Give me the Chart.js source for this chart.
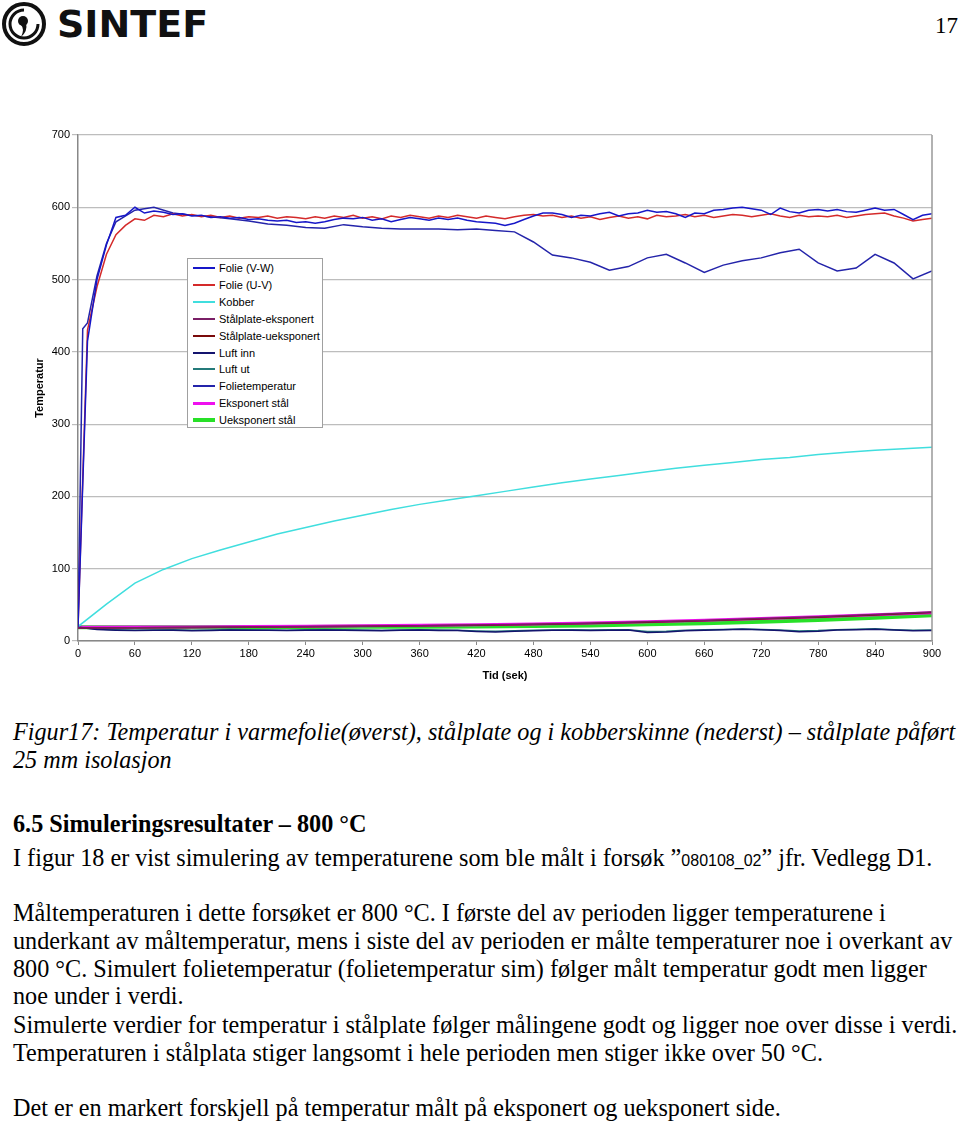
<!DOCTYPE html>
<html>
<head>
<meta charset="utf-8">
<script src="https://cdn.jsdelivr.net/npm/chart.js@4.4.0/dist/chart.umd.min.js"></script>
<style>
  body { margin: 0; background: #fff; }
  #page { position: relative; width: 960px; height: 1123px; overflow: hidden; background: #fff; }
  .abs { position: absolute; white-space: nowrap; }
  .serif { font-family: "Liberation Serif", "Times New Roman", serif; font-size: 24.2px; line-height: 28px; color: #000; }
  .cap { font-style: italic; }
  .code { font-family: "Liberation Sans", Arial, sans-serif; font-size: 16px; }
  #legend { position: absolute; left: 187px; top: 258px; width: 134px; height: 168px; border: 1px solid #a0a0a0; background: #fff;
            font-family: "Liberation Sans", Arial, sans-serif; font-size: 11px; color: #000; }
  #legend .row { position: absolute; left: 0; height: 14px; line-height: 14px; }
  #legend .swatch { position: absolute; left: 5px; width: 22px; top: 7px; }
  #legend .lbl { position: absolute; left: 31px; top: 0; white-space: nowrap; }
</style>
</head>
<body>
<div id="page">
  <svg class="abs" style="left:1px;top:1px" width="46" height="46" viewBox="0 0 46 46">
    <circle cx="23" cy="23" r="20" fill="none" stroke="#111" stroke-width="4"/>
    <path d="M23 9 A14 14 0 1 0 37 23" fill="none" stroke="#111" stroke-width="3"/>
    <circle cx="22" cy="20" r="5" fill="#111"/>
    <path d="M25 22 Q27 30 20 36 Q24 28 20 24 Z" fill="#111"/>
  </svg>
  <div class="abs" style="left:57px;top:2px;font-family:'DejaVu Sans',sans-serif;font-weight:bold;font-size:38px;line-height:44px;color:#111;">SINTEF</div>
  <div class="abs serif" style="right:2px;top:12px;font-size:23px;">17</div>

  <div class="abs" style="left:0;top:100px;width:960px;height:600px;">
    <canvas id="chart" width="960" height="600"></canvas>
  </div>
  <div id="legend"></div>

  <div class="abs serif cap" style="left:13px;top:718px;">Figur17: Temperatur i varmefolie(øverst), stålplate og i kobberskinne (nederst) – stålplate påført</div>
  <div class="abs serif cap" style="left:13px;top:746px;">25 mm isolasjon</div>
  <div class="abs serif" style="left:13px;top:810px;font-weight:bold;">6.5 Simuleringsresultater – 800 °C</div>
  <div class="abs serif" style="left:13px;top:844px;">I figur 18 er vist simulering av temperaturene som ble målt i forsøk ”<span class="code">080108_02</span>” jfr. Vedlegg D1.</div>
  <div class="abs serif" style="left:13px;top:899px;">Måltemperaturen i dette forsøket er 800 °C. I første del av perioden ligger temperaturene i</div>
  <div class="abs serif" style="left:13px;top:927px;">underkant av måltemperatur, mens i siste del av perioden er målte temperaturer noe i overkant av</div>
  <div class="abs serif" style="left:13px;top:955px;">800 °C. Simulert folietemperatur (folietemperatur sim) følger målt temperatur godt men ligger</div>
  <div class="abs serif" style="left:13px;top:982px;">noe under i verdi.</div>
  <div class="abs serif" style="left:13px;top:1011px;">Simulerte verdier for temperatur i stålplate følger målingene godt og ligger noe over disse i verdi.</div>
  <div class="abs serif" style="left:13px;top:1039px;">Temperaturen i stålplata stiger langsomt i hele perioden men stiger ikke over 50 °C.</div>
  <div class="abs serif" style="left:13px;top:1094px;">Det er en markert forskjell på temperatur målt på eksponert og ueksponert side.</div>
</div>

<script>
// tid (sek) for the measured foil channels, every 10 s
const tFolie = [0, 10, 20, 30, 40, 50, 60, 70, 80, 90, 100, 110, 120, 130, 140, 150, 160, 170, 180, 190,
  200, 210, 220, 230, 240, 250, 260, 270, 280, 290, 300, 310, 320, 330, 340, 350, 360, 370, 380, 390,
  400, 410, 420, 430, 440, 450, 460, 470, 480, 490, 500, 510, 520, 530, 540, 550, 560, 570, 580, 590,
  600, 610, 620, 630, 640, 650, 660, 670, 680, 690, 700, 710, 720, 730, 740, 750, 760, 770, 780, 790,
  800, 810, 820, 830, 840, 850, 860, 870, 880, 890, 900];

const folieVW = [19, 415, 500, 548, 586, 589, 600, 592, 595, 593, 590, 591, 588, 589, 586, 587, 585, 586, 583, 584,
  582, 581, 582, 579, 580, 578, 580, 583, 585, 584, 586, 582, 584, 580, 583, 586, 584, 582, 585, 583,
  585, 582, 580, 579, 578, 575, 578, 583, 588, 592, 592, 590, 586, 589, 588, 591, 593, 588, 591, 592,
  596, 593, 594, 591, 586, 592, 591, 596, 597, 599, 600, 598, 596, 590, 599, 594, 592, 596, 597, 595,
  597, 594, 593, 596, 599, 596, 597, 590, 583, 589, 591];

const folieUV = [19, 430, 490, 535, 562, 575, 584, 582, 589, 587, 591, 588, 590, 587, 589, 586, 588, 585, 587, 586,
  588, 585, 587, 586, 584, 587, 585, 588, 586, 589, 585, 587, 584, 588, 586, 589, 587, 585, 588, 586,
  589, 587, 585, 588, 586, 584, 587, 589, 590, 588, 589, 586, 588, 585, 587, 583, 586, 588, 585, 587,
  584, 589, 587, 588, 590, 587, 589, 586, 588, 590, 589, 587, 589, 591, 588, 586, 589, 587, 588, 587,
  589, 586, 588, 590, 591, 592, 588, 585, 581, 583, 585];

// simulated foil temperature
const tSim = [0, 5, 10, 20, 30, 40, 60, 80, 100, 120, 140, 160, 180, 200, 220, 240, 260, 280, 300, 320, 340,
  360, 380, 400, 420, 440, 460, 480, 500, 520, 540, 560, 580, 600, 620, 640, 660, 680, 700, 720, 740,
  760, 780, 800, 820, 840, 860, 880, 900];
const folieSim = [19, 432, 440, 505, 550, 580, 596, 600, 592, 589, 587, 584, 581, 577, 575, 572, 571, 576, 573, 571, 570,
  570, 570, 569, 570, 568, 566, 552, 534, 530, 524, 513, 518, 530, 535, 523, 510, 520, 526, 530, 537,
  542, 523, 512, 516, 535, 523, 501, 512];

// kobber, every 30 s
const tKobber = [0, 30, 60, 90, 120, 150, 180, 210, 240, 270, 300, 330, 360, 390, 420, 450, 480, 510, 540, 570,
  600, 630, 660, 690, 720, 750, 780, 810, 840, 870, 900];
const kobber = [20, 51, 80, 99, 114, 126, 137, 148, 157, 166, 174, 182, 189, 195, 201, 207, 213, 219, 224, 229,
  234, 239, 243, 247, 251, 254, 258, 261, 264, 266, 268];

// steel plate, every 60 s
const tStal = [0, 60, 120, 180, 240, 300, 360, 420, 480, 540, 600, 660, 720, 780, 840, 900];
const stalEksp = [18, 18.5, 19, 19.5, 20, 20.5, 21, 22, 23, 24.5, 26.5, 28.5, 31, 33.5, 36.5, 40];
const stalUeksp = [18, 18.3, 18.8, 19.3, 19.8, 20.3, 21, 21.8, 22.8, 24.2, 26, 28, 30.5, 33, 36, 39.5];
const eksponertStal = [19, 19.2, 19.5, 20, 20.5, 21, 21.7, 22.5, 23.5, 25, 26.8, 28.8, 31, 33.5, 36.2, 39];
const ueksponertStal = [19, 19, 19, 19.2, 19.4, 19.6, 19.8, 20.2, 20.6, 21.5, 23, 24.5, 26.5, 29, 32, 35.5];

// air, every 20 s
const tLuft = [0, 20, 40, 60, 80, 100, 120, 140, 160, 180, 200, 220, 240, 260, 280, 300, 320, 340, 360, 380,
  400, 420, 440, 460, 480, 500, 520, 540, 560, 580, 600, 620, 640, 660, 680, 700, 720, 740, 760, 780,
  800, 820, 840, 860, 880, 900];
const luftInn = [19, 16, 15, 14.5, 15, 14.8, 14.2, 14.6, 15.2, 15, 14.7, 14.4, 15, 15.3, 14.9, 14.5, 14.2, 14.8, 15.1, 14.6,
  14.4, 13.2, 12.5, 13.4, 14.2, 14.8, 15, 14.5, 14.9, 15.2, 11.8, 12.5, 14.2, 14.8, 15.4, 16.2, 15.5, 14.6, 12.8, 13.6,
  15.2, 15.6, 16.4, 15.1, 14.3, 14.6];
const luftUt = [19, 16.5, 15.5, 15, 15.3, 15.6, 15, 15.2, 15.8, 15.5, 15.2, 15, 15.6, 15.9, 15.4, 15.1, 14.8, 15.3, 15.6, 15.2,
  15, 14, 13.5, 14.2, 14.8, 15.3, 15.6, 15.1, 15.4, 15.7, 13, 13.4, 14.8, 15.4, 15.9, 16.6, 16, 15.2, 13.8, 14.4,
  15.7, 16.1, 16.8, 15.7, 15, 15.2];

const xTicks = [0, 60, 120, 180, 240, 300, 360, 420, 480, 540, 600, 660, 720, 780, 840, 900];
const yTicks = [0, 100, 200, 300, 400, 500, 600, 700];

function pts(xs, ys) {
  return xs.map((x, i) => ({ x: x, y: ys[i] }));
}

function series(label, xs, ys, color, width) {
  return {
    label: label,
    data: pts(xs, ys),
    borderColor: color,
    backgroundColor: color,
    borderWidth: width,
    pointRadius: 0,
    tension: 0,
    fill: false
  };
}

const datasets = [
  series('Folie (V-W)', tFolie, folieVW, '#1616c8', 1.5),
  series('Folie (U-V)', tFolie, folieUV, '#d42a2a', 1.5),
  series('Kobber', tKobber, kobber, '#40dede', 1.5),
  series('Stålplate-eksponert', tStal, stalEksp, '#7a1f66', 1.5),
  series('Stålplate-ueksponert', tStal, stalUeksp, '#7a0a0a', 1.5),
  series('Luft inn', tLuft, luftInn, '#14146e', 1.5),
  series('Luft ut', tLuft, luftUt, '#247a7a', 1.5),
  series('Folietemperatur', tSim, folieSim, '#2424aa', 1.5),
  series('Eksponert stål', tStal, eksponertStal, '#ee10ee', 3),
  series('Ueksponert stål', tStal, ueksponertStal, '#28e028', 4)
];

const frame = {
  id: 'frame',
  afterDraw(chart) {
    const a = chart.chartArea;
    const ctx = chart.ctx;
    ctx.save();
    ctx.strokeStyle = '#999';
    ctx.lineWidth = 1.5;
    ctx.beginPath();
    ctx.moveTo(a.right, a.top);
    ctx.lineTo(a.right, a.bottom);
    ctx.stroke();
    ctx.restore();
  }
};

const font11 = { family: '"Liberation Sans", Arial, sans-serif', size: 11 };

const chart = new Chart(document.getElementById('chart'), {
  type: 'line',
  data: { datasets: datasets },
  options: {
    responsive: false,
    animation: false,
    devicePixelRatio: 1,
    layout: { padding: { top: 35, right: 28, left: 0, bottom: 0 } },
    plugins: { legend: { display: false }, tooltip: { enabled: false } },
    scales: {
      x: {
        type: 'linear',
        min: xTicks[0],
        max: xTicks[xTicks.length - 1],
        afterBuildTicks(scale) { scale.ticks = xTicks.map(v => ({ value: v })); },
        afterFit(scale) { scale.height = 59; },
        ticks: { font: font11, color: '#000', padding: 2, maxRotation: 0, autoSkip: false },
        grid: { drawOnChartArea: false, drawTicks: true, tickLength: 4, color: '#888' },
        border: { color: '#888', width: 1.5 },
        title: { display: true, text: 'Tid (sek)', color: '#000', font: { family: font11.family, size: 11, weight: 'bold' }, padding: { top: 0, bottom: 17 } }
      },
      y: {
        min: yTicks[0],
        max: yTicks[yTicks.length - 1],
        afterBuildTicks(scale) { scale.ticks = yTicks.map(v => ({ value: v })); },
        afterFit(scale) { scale.width = 78; },
        ticks: { font: font11, color: '#000', padding: 2 },
        grid: { color: '#bdbdbd', lineWidth: 1.2, tickLength: 6 },
        border: { color: '#888', width: 1.5 },
        title: { display: true, text: 'Temperatur', color: '#000', font: { family: font11.family, size: 11, weight: 'bold' }, padding: { top: 33, bottom: 0 } }
      }
    }
  },
  plugins: [frame]
});

// legend box inside the plot, built from the datasets
const legend = document.getElementById('legend');
chart.data.datasets.forEach((ds, i) => {
  const row = document.createElement('div');
  row.className = 'row';
  row.style.top = (2 + i * 16.9) + 'px';
  row.style.width = '134px';
  const sw = document.createElement('div');
  sw.className = 'swatch';
  sw.style.borderTop = Math.max(2, ds.borderWidth) + 'px solid ' + ds.borderColor;
  sw.style.marginTop = (-Math.max(2, ds.borderWidth) / 2) + 'px';
  const lb = document.createElement('div');
  lb.className = 'lbl';
  lb.textContent = ds.label;
  row.appendChild(sw);
  row.appendChild(lb);
  legend.appendChild(row);
});
</script>
</body>
</html>
